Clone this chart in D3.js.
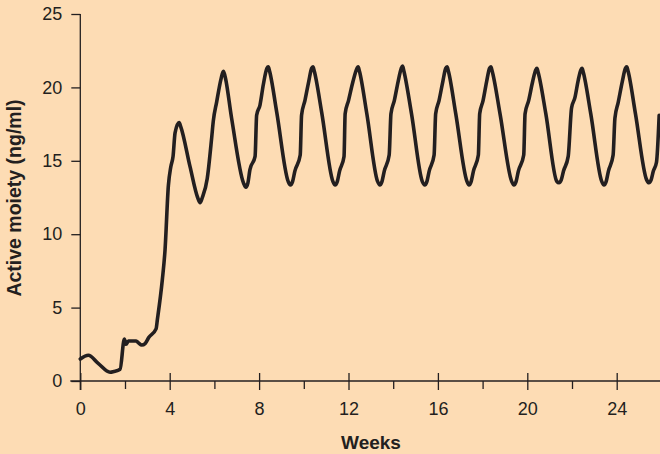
<!DOCTYPE html>
<html>
<head>
<meta charset="utf-8">
<script src="https://cdn.jsdelivr.net/npm/d3@7"></script>
<style>
  html, body { margin: 0; padding: 0; background: #fddcb4; }
  svg { display: block; }
  text { font-family: "Liberation Sans", Arial, Helvetica, sans-serif; fill: #231f20; }
</style>
</head>
<body>
<svg id="chart" width="660" height="454"></svg>
<script>
// Concentration of active moiety over time (weeks)
const weeks = [
  0, 0.36, 0.8, 1.33, 1.5, 1.78, 1.97, 2.05, 2.15, 2.5, 2.6, 2.75, 2.9, 3.07, 3.39, 3.45,
  3.67, 3.79, 3.94, 4.05, 4.15, 4.24, 4.42, 4.5, 4.91, 5.25, 5.36, 5.46, 5.68, 5.88, 5.95,
  6.1, 6.3, 6.4, 6.47, 6.77, 7.3,
  7.41, 7.5, 7.59, 7.82, 7.89, 8.04, 8.19, 8.35, 8.41, 8.47, 8.79, 9.3,
  9.4, 9.5, 9.6, 9.84, 9.9, 10.05, 10.22, 10.35, 10.41, 10.47, 10.8, 11.3,
  11.4, 11.5, 11.6, 11.8, 11.85, 12.0, 12.2, 12.38, 12.43, 12.49, 12.82, 13.3,
  13.4, 13.5, 13.6, 13.82, 13.9, 14.05, 14.22, 14.36, 14.42, 14.48, 14.82, 15.3,
  15.41, 15.51, 15.61, 15.83, 15.9, 16.05, 16.22, 16.35, 16.41, 16.47, 16.8, 17.3,
  17.39, 17.49, 17.59, 17.81, 17.87, 18.02, 18.18, 18.31, 18.37, 18.43, 18.78, 19.3,
  19.4, 19.5, 19.6, 19.84, 19.9, 20.06, 20.24, 20.38, 20.43, 20.49, 20.83, 21.32,
  21.42, 21.52, 21.62, 21.83, 21.98, 22.13, 22.28, 22.4, 22.45, 22.51, 22.84, 23.33,
  23.43, 23.53, 23.63, 23.84, 23.92, 24.07, 24.25, 24.39, 24.45, 24.51, 24.84, 25.34,
  25.44, 25.54, 25.64, 25.78, 25.9
];
const moiety = [
  1.5, 1.75, 1.2, 0.6, 0.65, 0.8, 2.85, 2.5, 2.72, 2.72, 2.6, 2.45, 2.55, 2.98, 3.55, 4.2,
  6.9, 8.9, 13.3, 14.6, 15.3, 16.9, 17.6, 17.3, 14.6, 12.5, 12.15, 12.5, 13.8, 16.6, 17.7,
  19.0, 20.6, 21.1, 20.8, 17.9, 13.5,
  13.2, 13.5, 14.4, 15.3, 18.1, 18.8, 20.2, 21.3, 21.4, 21.1, 18.3, 13.6,
  13.35, 13.6, 14.3, 15.4, 18.1, 19.1, 20.4, 21.3, 21.4, 21.1, 18.3, 13.6,
  13.35, 13.6, 14.3, 15.3, 18.2, 19.1, 20.4, 21.3, 21.4, 21.1, 18.2, 13.6,
  13.35, 13.6, 14.3, 15.4, 18.2, 19.1, 20.4, 21.3, 21.45, 21.1, 18.2, 13.6,
  13.35, 13.6, 14.3, 15.4, 18.2, 19.1, 20.4, 21.3, 21.4, 21.1, 18.2, 13.6,
  13.35, 13.6, 14.3, 15.4, 18.2, 19.1, 20.4, 21.3, 21.4, 21.1, 18.2, 13.6,
  13.35, 13.6, 14.3, 15.4, 18.2, 19.1, 20.4, 21.2, 21.3, 21.0, 18.2, 13.6,
  13.5, 13.7, 14.3, 15.3, 18.6, 19.3, 20.5, 21.2, 21.3, 21.0, 18.2, 13.6,
  13.35, 13.6, 14.3, 15.4, 17.9, 19.0, 20.4, 21.3, 21.4, 21.1, 18.2, 13.7,
  13.5, 13.7, 14.3, 14.9, 18.1
];
const xMajorTicks = [0, 4, 8, 12, 16, 20, 24];
const xMinorTicks = [2, 6, 10, 14, 18, 22, 26];
const yTicks = [0, 5, 10, 15, 20, 25];

const ink = "#231f20";
const svg = d3.select("#chart");

const x = d3.scaleLinear().domain([0, 26]).range([80.3, 661.4]);
const y = d3.scaleLinear().domain([0, 25]).range([381, 14]);

// y axis: ticks pointing left
const yAxis = svg.append("g")
  .attr("transform", `translate(${x(0)},0)`)
  .call(d3.axisLeft(y).tickValues(yTicks).tickSize(9).tickPadding(9).tickSizeOuter(0));
yAxis.select(".domain").remove();
yAxis.selectAll(".tick line").attr("stroke", ink).attr("stroke-width", 1.3);
yAxis.selectAll(".tick text")
  .attr("font-size", 18).attr("fill", ink)
  .style("font-family", '"Liberation Sans", Arial, sans-serif');
svg.append("line")
  .attr("x1", x(0)).attr("x2", x(0))
  .attr("y1", y(25)).attr("y2", y(0) + 9)
  .attr("stroke", ink).attr("stroke-width", 1.3);

// x axis: major ticks cross the line, minor ticks hang below it
const xAxis = svg.append("g")
  .attr("transform", `translate(0,${y(0)})`)
  .call(d3.axisBottom(x).tickValues(xMajorTicks).tickSize(9).tickPadding(12).tickSizeOuter(0));
xAxis.select(".domain").remove();
xAxis.selectAll(".tick line").attr("y1", -8).attr("stroke", ink).attr("stroke-width", 1.3);
xAxis.selectAll(".tick text")
  .attr("font-size", 18).attr("fill", ink)
  .style("font-family", '"Liberation Sans", Arial, sans-serif');
svg.append("g")
  .attr("transform", `translate(0,${y(0)})`)
  .call(d3.axisBottom(x).tickValues(xMinorTicks).tickSize(8).tickFormat("").tickSizeOuter(0))
  .call(g => g.select(".domain").remove())
  .call(g => g.selectAll(".tick line").attr("stroke", ink).attr("stroke-width", 1.3));
svg.append("line")
  .attr("x1", x(0) - 10).attr("x2", 660)
  .attr("y1", y(0)).attr("y2", y(0))
  .attr("stroke", ink).attr("stroke-width", 1.3);

// axis titles
svg.append("text")
  .attr("x", 371).attr("y", 449)
  .attr("text-anchor", "middle")
  .attr("font-size", 19).attr("font-weight", "bold")
  .text("Weeks");
svg.append("text")
  .attr("transform", "translate(20.5,198) rotate(-90)")
  .attr("text-anchor", "middle")
  .attr("font-size", 19.5).attr("font-weight", "bold")
  .text("Active moiety (ng/ml)");

// concentration curve
const points = weeks.map((w, i) => [w, moiety[i]]);
const line = d3.line()
  .x(d => x(d[0]))
  .y(d => y(d[1]))
  .curve(d3.curveMonotoneX);
svg.append("path")
  .datum(points)
  .attr("d", line)
  .attr("fill", "none")
  .attr("stroke", ink)
  .attr("stroke-width", 3.6)
  .attr("stroke-linejoin", "round")
  .attr("stroke-linecap", "round");
</script>
</body>
</html>
